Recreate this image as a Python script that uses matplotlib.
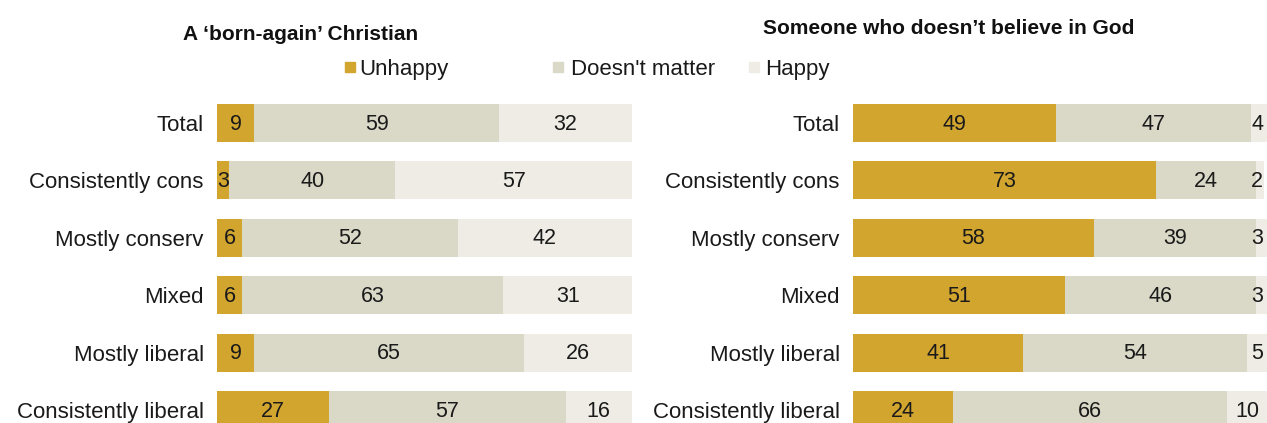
import numpy as np
import matplotlib
matplotlib.use('Agg')
import matplotlib.pyplot as plt
from matplotlib.patches import Rectangle

# Data
groups = ['Total', 'Consistently cons', 'Mostly conserv', 'Mixed',
          'Mostly liberal', 'Consistently liberal']
born_unhappy = [9, 3, 6, 6, 9, 27]
born_nomatter = [59, 40, 52, 63, 65, 57]
born_happy = [32, 57, 42, 31, 26, 16]
athe_unhappy = [49, 73, 58, 51, 41, 24]
athe_nomatter = [47, 24, 39, 46, 54, 66]
athe_happy = [4, 2, 3, 3, 5, 10]
legend_labels = ['Unhappy', "Doesn't matter", 'Happy']
titles = ['A \u2018born-again\u2019 Christian', 'Someone who doesn\u2019t believe in God']

colors = ['#D2A52F', '#DAD8C7', '#EEECE4']
font = ['Liberation Sans', 'DejaVu Sans']

W, H = 1267, 423
fig = plt.figure(figsize=(W / 100, H / 100), dpi=100)

row_step = 57.4
top_px = 123 - row_step / 2
ax_h = 6 * row_step


def make_panel(x0, x1, series, title, title_x, title_y, max_label_x=100):
    ax = fig.add_axes([x0 / W, 1 - (top_px + ax_h) / H, (x1 - x0) / W, ax_h / H])
    y = np.arange(len(groups))
    left = np.zeros(len(groups))
    for vals, c in zip(series, colors):
        vals = np.array(vals)
        ax.barh(y, vals, left=left, height=0.66, color=c, edgecolor='none')
        for yi, l, v in zip(y, left, vals):
            # keep the little end labels from running off the page
            xc = min(l + v / 2, max_label_x)
            ax.text(xc, yi + 0.02, str(v), ha='center', va='center',
                    fontsize=15.5, family=font, color='#1a1a1a')
        left = left + vals
    ax.set_xlim(0, 100)
    ax.set_ylim(5.5, -0.5)
    ax.set_yticks(y)
    ax.set_yticklabels(groups, family=font, fontsize=16, color='#1a1a1a')
    ax.tick_params(axis='y', length=0, pad=9.5)
    ax.set_xticks([])
    for s in ax.spines.values():
        s.set_visible(False)
    fig.text(title_x / W, 1 - title_y / H, title, ha='center', va='center_baseline',
             fontsize=15, fontweight='bold', family=font, color='#111111')
    return ax


make_panel(217, 632, [born_unhappy, born_nomatter, born_happy], titles[0], 301, 33)
make_panel(853, 1268, [athe_unhappy, athe_nomatter, athe_happy], titles[1], 949, 27,
           max_label_x=97.4)

# legend
leg_pos = [(345, 359), (553, 571), (749, 765)]
for (sx, tx), lab, c in zip(leg_pos, legend_labels, colors):
    fig.patches.append(Rectangle((sx / W, 1 - 72 / H), 10 / W, 10 / H,
                                 transform=fig.transFigure, color=c))
    fig.text(tx / W, 1 - 66.5 / H, lab, ha='left', va='center_baseline', fontsize=16,
             family=font, color='#1a1a1a')

fig.savefig('out.png', dpi=100)
